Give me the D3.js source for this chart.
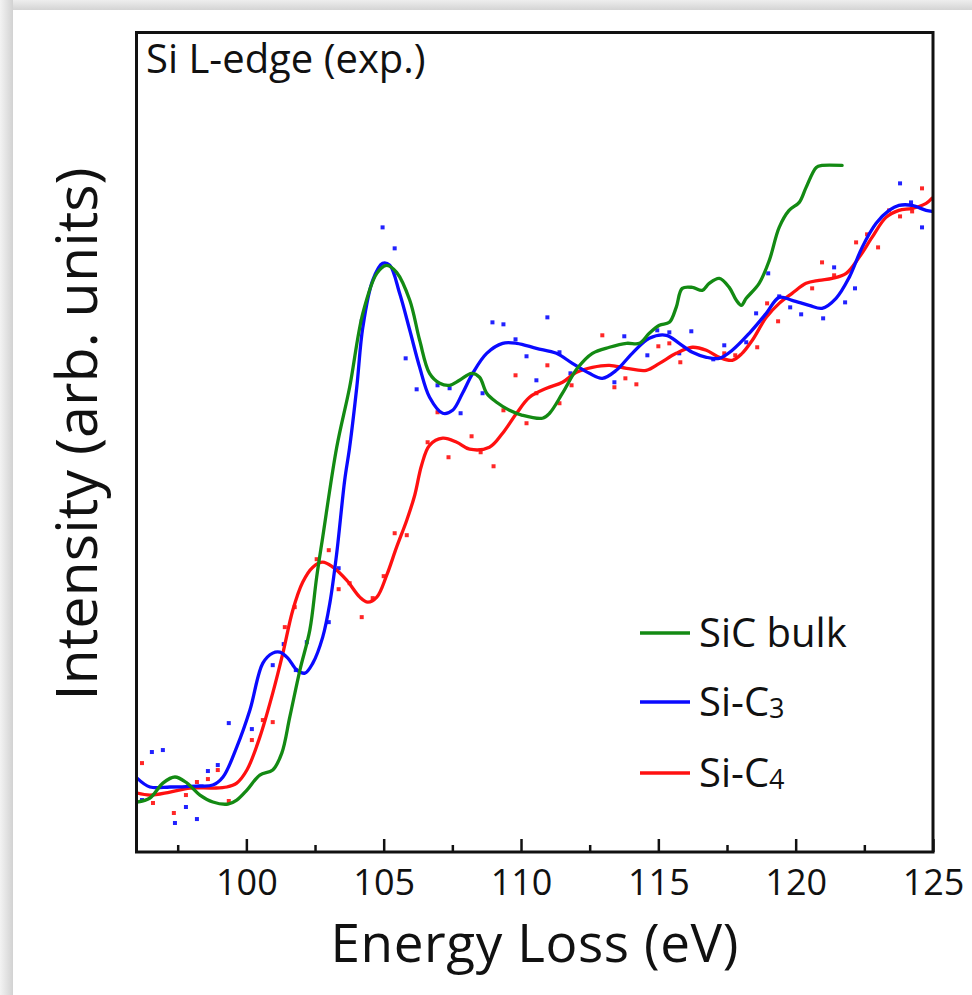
<!DOCTYPE html>
<html>
<head>
<meta charset="utf-8">
<script src="https://cdn.jsdelivr.net/npm/d3@7"></script>
<style>
  html, body { margin: 0; padding: 0; background: #fff; }
  svg { display: block; }
  text { font-family: "Open Sans", "Noto Sans", sans-serif; fill: #111; }
</style>
</head>
<body>
<svg id="chart" width="972" height="995"></svg>
<script>
// ---------- DATA (Energy loss in eV, intensity in arbitrary units 0-100) ----------
const xTicksMajor = [100, 105, 110, 115, 120, 125];
const xTicksMinor = [97.5, 102.5, 107.5, 112.5, 117.5, 122.5];

const seriesNames = ["SiC bulk", "Si-C3", "Si-C4"];

const sicBulkLine = [
  [96.02,6.10],[96.49,6.59],[96.96,8.41],[97.40,9.15],[97.84,8.41],[98.31,6.95],[98.78,6.10],
  [99.33,5.85],[99.65,6.34],[100.02,7.56],[100.49,9.39],[100.96,10.00],[101.29,12.07],
  [101.58,16.46],[101.95,22.20],[102.31,27.07],[102.56,33.54],[102.78,38.41],[103.29,49.39],
  [103.76,56.71],[104.24,65.73],[104.75,70.61],[105.11,71.59],[105.47,70.73],[105.95,67.32],
  [106.31,62.44],[106.67,58.41],[107.04,57.20],[107.40,56.95],[107.76,57.56],[108.20,58.41],
  [108.49,57.93],[108.75,55.98],[109.11,54.88],[109.58,53.90],[110.05,53.29],[110.78,52.93],
  [111.04,53.54],[111.51,55.98],[112.05,59.02],[112.60,60.85],[113.22,61.59],[113.84,62.07],
  [114.31,62.07],[114.67,63.29],[115.04,64.27],[115.40,64.63],[115.65,66.46],[115.87,68.78],
  [116.24,68.90],[116.60,68.54],[116.85,69.39],[117.22,70.00],[117.58,68.90],[117.84,67.32],
  [118.02,66.71],[118.20,67.56],[118.67,69.39],[119.04,72.20],[119.40,76.22],[119.76,78.29],
  [120.13,79.27],[120.38,81.10],[120.75,83.54],[120.96,83.78],[121.69,83.78]
];

const siC3Line = [
  [96.02,9.02],[96.49,7.93],[97.22,7.93],[98.20,8.05],[98.78,8.17],[99.15,9.15],[99.65,12.80],
  [100.13,17.32],[100.60,23.05],[100.96,24.27],[101.22,24.39],[101.51,23.66],[101.84,22.20],
  [102.13,21.83],[102.42,23.05],[102.78,26.22],[103.04,30.37],[103.29,36.46],[103.58,45.37],
  [103.76,49.39],[104.02,56.71],[104.24,64.02],[104.60,69.76],[104.96,71.83],[105.22,71.59],
  [105.58,68.17],[105.95,63.66],[106.31,59.15],[106.67,55.49],[107.15,53.54],[107.51,53.90],
  [107.87,55.98],[108.24,58.41],[108.75,60.85],[109.33,62.07],[109.84,62.07],[110.56,61.46],
  [111.29,60.85],[111.87,59.63],[112.49,58.41],[112.96,57.80],[113.47,58.78],[114.05,60.85],
  [114.67,62.68],[115.29,63.05],[115.76,62.07],[116.24,60.98],[116.75,60.37],[117.22,60.24],
  [117.69,61.22],[118.31,63.29],[118.93,65.73],[119.40,67.68],[119.87,67.32],[120.49,66.71],
  [120.96,66.34],[121.47,67.56],[121.95,70.12],[122.42,73.78],[122.93,76.71],[123.40,78.29],
  [123.76,78.90],[124.24,78.90],[124.75,78.29],[124.96,78.17]
];

const siC4Line = [
  [96.02,7.20],[96.49,6.95],[97.22,7.32],[97.95,7.80],[98.78,7.80],[99.29,7.93],[99.65,8.41],
  [100.02,10.00],[100.49,14.02],[100.96,19.39],[101.33,24.27],[101.69,29.51],[102.05,32.93],
  [102.42,34.76],[102.78,35.37],[103.15,34.76],[103.65,33.17],[104.13,31.10],[104.42,30.49],
  [104.75,31.10],[105.11,33.78],[105.47,37.20],[105.84,40.49],[106.13,43.54],[106.38,47.20],
  [106.67,49.63],[107.15,50.49],[107.66,50.00],[108.13,49.15],[108.85,49.39],[109.33,51.10],
  [109.84,53.54],[110.31,55.49],[110.93,56.59],[111.51,57.32],[112.02,58.54],[112.60,59.15],
  [113.22,59.39],[113.84,59.02],[114.56,58.78],[115.04,59.63],[115.65,60.85],[116.24,61.59],
  [116.75,61.22],[117.22,60.37],[117.69,60.00],[118.05,60.85],[118.42,62.44],[118.93,65.24],
  [119.40,66.95],[119.87,68.17],[120.38,69.39],[120.85,69.76],[121.33,70.00],[121.84,70.61],
  [122.31,72.56],[122.78,75.00],[123.29,77.44],[123.76,78.29],[124.24,78.54],[124.75,79.15],
  [124.96,79.76]
];

const siC3Points = [
  [96.20,6.34],[96.56,12.20],[96.96,12.44],[97.40,3.54],[97.80,5.49],[98.20,4.02],[98.60,9.88],
  [98.96,10.61],[99.36,15.73],[100.20,15.00],[100.96,22.80],[101.36,25.37],[101.80,22.20],
  [102.20,25.61],[103.00,28.05],[103.36,34.63],[104.20,64.76],[104.96,76.22],[105.40,73.66],
  [105.80,60.24],[106.20,56.46],[106.96,56.95],[107.40,56.59],[107.80,53.54],[108.60,55.98],
  [108.96,64.63],[109.36,64.39],[109.80,62.56],[110.20,60.49],[110.56,57.56],[110.96,65.24],
  [111.40,60.98],[111.80,58.41],[113.40,57.32],[113.76,62.93],[114.60,60.61],[114.96,63.66],
  [115.40,63.41],[115.76,60.85],[116.20,63.54],[117.00,60.12],[117.40,61.83],[118.20,62.20],
  [118.56,65.73],[119.00,70.61],[119.40,67.80],[119.80,66.46],[120.20,65.61],[121.00,65.12],
  [121.40,71.34],[121.80,67.07],[122.16,68.78],[123.80,81.59],[124.20,79.27],[124.60,76.22]
];

const siC4Points = [
  [96.20,10.85],[96.60,5.98],[97.36,4.76],[97.80,6.95],[98.20,8.54],[98.60,8.90],[98.96,10.00],
  [99.36,6.22],[100.20,13.66],[100.60,16.10],[100.96,15.85],[101.40,27.44],[101.76,29.88],
  [102.56,35.73],[103.00,36.83],[103.36,32.07],[103.76,32.80],[104.20,28.66],[104.60,30.98],
  [105.00,33.66],[105.40,38.90],[105.84,38.66],[106.60,50.00],[106.96,53.66],[107.36,48.17],
  [108.20,50.73],[108.53,48.78],[109.00,47.07],[109.36,53.90],[109.80,58.17],[110.20,52.32],
  [110.56,55.98],[110.96,59.39],[111.40,54.76],[111.84,56.95],[112.96,63.05],[113.40,56.71],
  [113.80,57.80],[114.20,57.07],[115.00,61.71],[115.40,62.07],[115.80,59.76],[117.40,60.85],
  [117.80,60.61],[118.60,61.59],[118.96,66.95],[119.36,64.76],[120.60,68.78],[120.96,71.95],
  [121.40,70.37],[122.20,74.39],[122.60,75.37],[123.00,73.78],[123.40,78.29],[123.80,77.56],
  [124.24,78.17],[124.60,80.98]
];

// ---------- LAYOUT ----------
const svg = d3.select("#chart");
const W = 972, H = 995;
const plot = { left: 136.5, right: 933, top: 32.5, bottom: 852 };

const x = d3.scaleLinear().domain([96, 125]).range([plot.left, plot.right]);
const y = d3.scaleLinear().domain([0, 100]).range([plot.bottom, plot.top]);

const colors = { bulk: "#138a13", c3: "#0a0aff", c4: "#ff1010" };

// background shadow bands (screenshot frame)
const defs = svg.append("defs");
const gTop = defs.append("linearGradient").attr("id", "gtop").attr("x1", 0).attr("y1", 0).attr("x2", 0).attr("y2", 1);
gTop.append("stop").attr("offset", "0%").attr("stop-color", "#eeeeee");
gTop.append("stop").attr("offset", "100%").attr("stop-color", "#d4d4d4");
const gLeft = defs.append("linearGradient").attr("id", "gleft").attr("x1", 0).attr("y1", 0).attr("x2", 1).attr("y2", 0);
gLeft.append("stop").attr("offset", "0%").attr("stop-color", "#f3f3f3");
gLeft.append("stop").attr("offset", "100%").attr("stop-color", "#d2d2d2");

svg.append("rect").attr("x", 0).attr("y", 0).attr("width", W).attr("height", H).attr("fill", "#fff");
svg.append("rect").attr("x", 0).attr("y", 0).attr("width", W).attr("height", 10).attr("fill", "url(#gtop)");
svg.append("rect").attr("x", 0).attr("y", 0).attr("width", 13).attr("height", H).attr("fill", "url(#gleft)");

// clip for plot content
defs.append("clipPath").attr("id", "plotclip").append("rect")
  .attr("x", plot.left).attr("y", plot.top)
  .attr("width", plot.right - plot.left).attr("height", plot.bottom - plot.top);

const content = svg.append("g").attr("clip-path", "url(#plotclip)");

// raw data points
function drawPoints(data, color) {
  content.append("g").selectAll("rect").data(data).enter().append("rect")
    .attr("x", d => x(d[0]) - 2).attr("y", d => y(d[1]) - 2)
    .attr("width", 4).attr("height", 4)
    .attr("fill", color).attr("opacity", 0.9);
}
drawPoints(siC3Points, colors.c3);
drawPoints(siC4Points, colors.c4);

// smoothed lines
const line = d3.line().x(d => x(d[0])).y(d => y(d[1])).curve(d3.curveCatmullRom.alpha(0.5));
function drawLine(data, color) {
  content.append("path").datum(data).attr("d", line)
    .attr("fill", "none").attr("stroke", color).attr("stroke-width", 3.3)
    .attr("stroke-linejoin", "round").attr("stroke-linecap", "round");
}
drawLine(siC4Line, colors.c4);
drawLine(siC3Line, colors.c3);
drawLine(sicBulkLine, colors.bulk);

// x axis: major ticks inward with labels
const xAxis = d3.axisBottom(x).tickValues(xTicksMajor).tickFormat(d3.format("d"))
  .tickSizeInner(-13).tickSizeOuter(0).tickPadding(17);
const gx = svg.append("g").attr("transform", `translate(0,${plot.bottom})`).call(xAxis);
gx.select(".domain").remove();
gx.selectAll(".tick line").attr("stroke", "#111").attr("stroke-width", 2.5);
gx.selectAll(".tick text").attr("font-size", 36).attr("fill", "#111")
  .attr("font-family", "'Open Sans', sans-serif");

// minor ticks (no labels)
const xAxisMinor = d3.axisBottom(x).tickValues(xTicksMinor)
  .tickSizeInner(-7).tickSizeOuter(0);
const gxm = svg.append("g").attr("transform", `translate(0,${plot.bottom})`).call(xAxisMinor);
gxm.select(".domain").remove();
gxm.selectAll(".tick text").remove();
gxm.selectAll(".tick line").attr("stroke", "#111").attr("stroke-width", 2.5);

// frame
svg.append("rect")
  .attr("x", plot.left).attr("y", plot.top)
  .attr("width", plot.right - plot.left).attr("height", plot.bottom - plot.top)
  .attr("fill", "none").attr("stroke", "#111").attr("stroke-width", 3);

// panel label
svg.append("text").attr("x", 146).attr("y", 73).attr("font-size", 40).text("Si L-edge (exp.)");

// axis titles
svg.append("text").attr("x", (plot.left + plot.right) / 2).attr("y", 962)
  .attr("text-anchor", "middle").attr("font-size", 53).attr("letter-spacing", 0.6)
  .text("Energy Loss (eV)");
svg.append("text").attr("transform", "translate(97,434) rotate(-90)")
  .attr("text-anchor", "middle").attr("font-size", 57.5).text("Intensity (arb. units)");

// legend
const legendItems = [
  { label: "SiC bulk", sub: null, color: colors.bulk, y: 633 },
  { label: "Si-C", sub: "3", color: colors.c3, y: 702 },
  { label: "Si-C", sub: "4", color: colors.c4, y: 773 }
];
const lg = svg.append("g");
legendItems.forEach(it => {
  lg.append("line").attr("x1", 640).attr("x2", 690).attr("y1", it.y).attr("y2", it.y)
    .attr("stroke", it.color).attr("stroke-width", 3.3);
  const t = lg.append("text").attr("x", 699).attr("y", it.y + 14).attr("font-size", 40).text(it.label);
  if (it.sub) t.append("tspan").attr("font-size", 27).attr("dy", 2).text(it.sub);
});
</script>
</body>
</html>
